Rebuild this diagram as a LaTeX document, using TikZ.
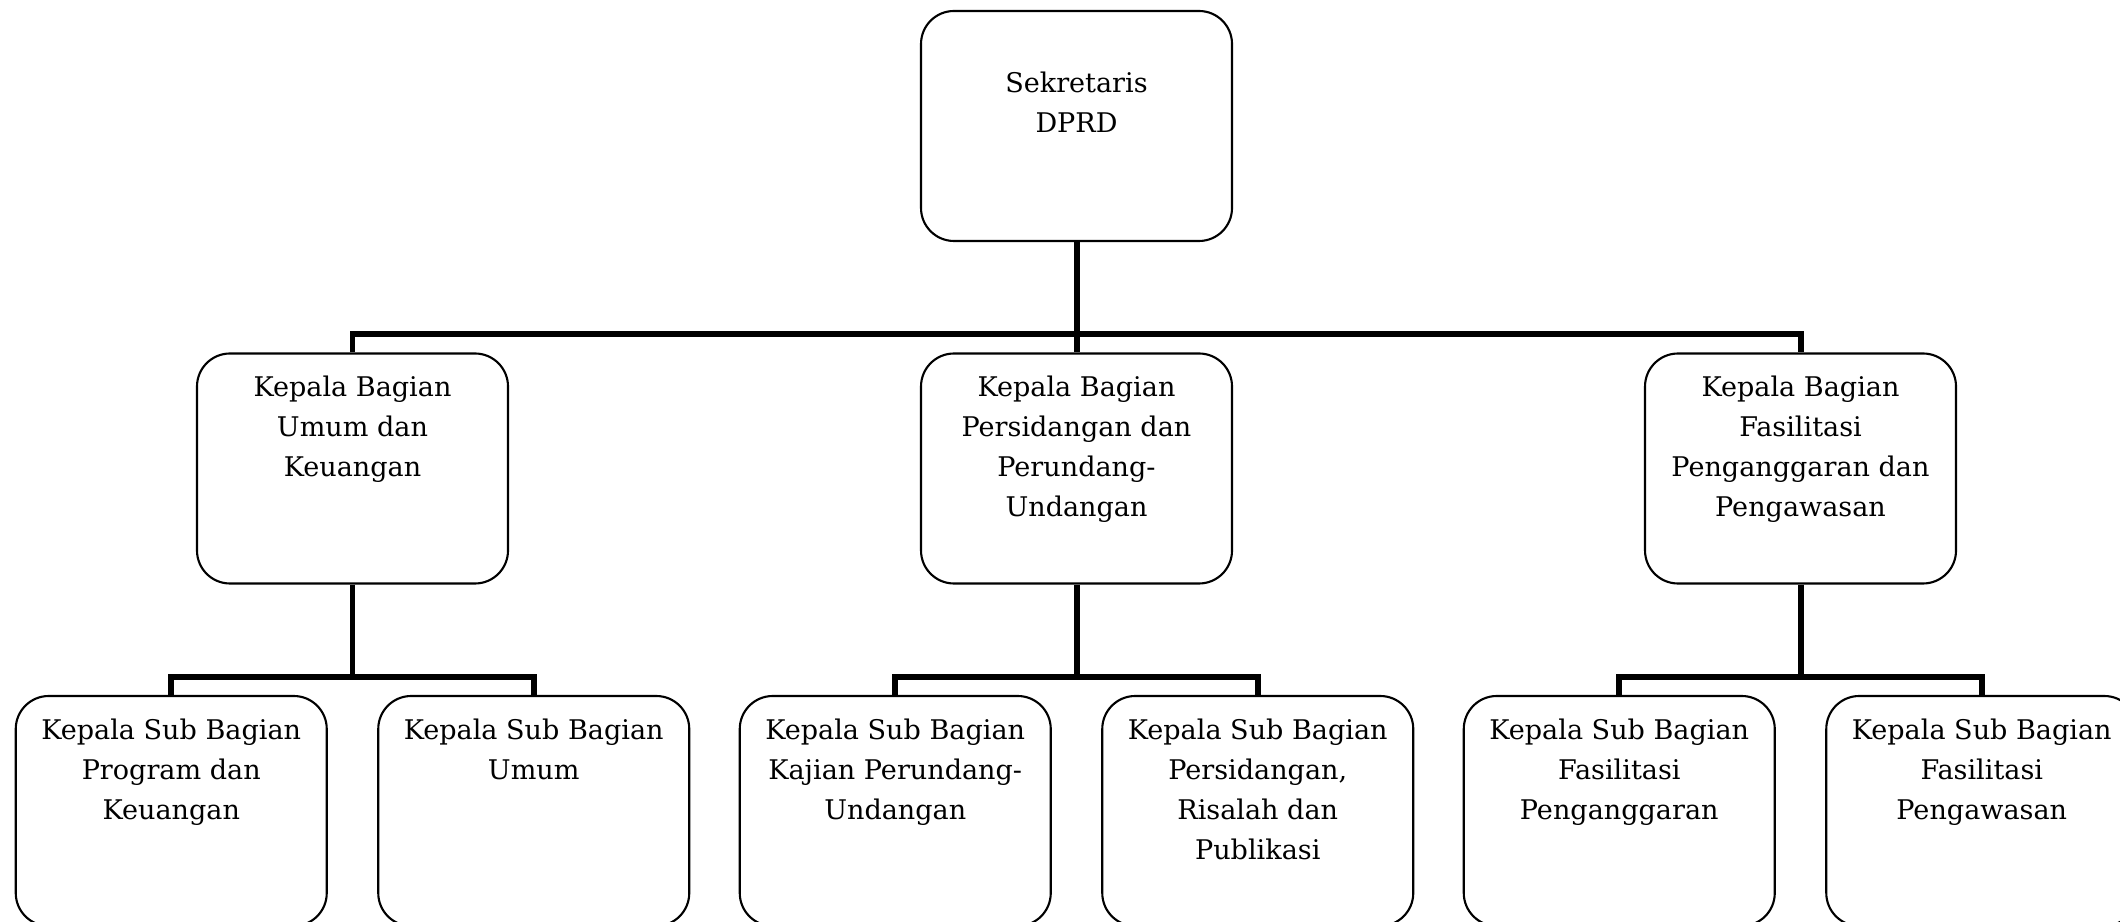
\documentclass[tikz,border=0pt]{standalone}
\usepackage{fontspec}
\setmainfont{DejaVu Serif}
\newcommand{\isi}[2][0pt]{\parbox[c][1.85cm][t]{2.91cm}{\centering\vspace*{#1}#2}}
\begin{document}
\begin{tikzpicture}[
        kotak/.style={draw, line width=0.6pt, rounded corners=0.33cm, inner xsep=0.1cm, inner ysep=0.225cm,
          font=\fontsize{7.7}{11.4}\selectfont},
        garis/.style={line width=1.7pt}]
        \useasboundingbox (0,0) rectangle (21.2,-9.22);
        \clip (0,0) rectangle (21.2,-9.22);
        % pimpinan
        \node[kotak] (atas) at (10.765,-1.26) {\isi[0.38cm]{Sekretaris\\DPRD}};
        % kepala bagian
        \node[kotak] (kb1) at (3.525,-4.685) {\isi{Kepala Bagian\\Umum dan\\Keuangan}};
        \node[kotak] (kb2) at (10.765,-4.685) {\isi{Kepala Bagian\\Persidangan dan\\Perundang-\\Undangan}};
        \node[kotak] (kb3) at (18.005,-4.685) {\isi{Kepala Bagian\\Fasilitasi\\Penganggaran dan\\Pengawasan}};
        % kepala sub bagian
        \node[kotak] (ks1) at (1.7125,-8.11) {\isi{Kepala Sub Bagian\\Program dan\\Keuangan}};
        \node[kotak] (ks2) at (5.3375,-8.11) {\isi{Kepala Sub Bagian\\Umum}};
        \node[kotak] (ks3) at (8.9525,-8.11) {\isi{Kepala Sub Bagian\\Kajian Perundang-\\Undangan}};
        \node[kotak] (ks4) at (12.5775,-8.11) {\isi{Kepala Sub Bagian\\Persidangan,\\Risalah dan\\Publikasi}};
        \node[kotak] (ks5) at (16.1925,-8.11) {\isi{Kepala Sub Bagian\\Fasilitasi\\Penganggaran}};
        \node[kotak] (ks6) at (19.8175,-8.11) {\isi{Kepala Sub Bagian\\Fasilitasi\\Pengawasan}};
        % garis
        \draw[garis] (atas.south) -- (kb2.north);
        \draw[garis] (kb1.north) -- ++(0,0.18) -| (kb3.north);
        \draw[garis] (kb1.south) -- ++(0,-0.95);
        \draw[garis] (kb2.south) -- ++(0,-0.95);
        \draw[garis] (kb3.south) -- ++(0,-0.95);
        \draw[garis] (ks1.north) -- ++(0,0.18) -| (ks2.north);
        \draw[garis] (ks3.north) -- ++(0,0.18) -| (ks4.north);
        \draw[garis] (ks5.north) -- ++(0,0.18) -| (ks6.north);
\end{tikzpicture}
\end{document}
